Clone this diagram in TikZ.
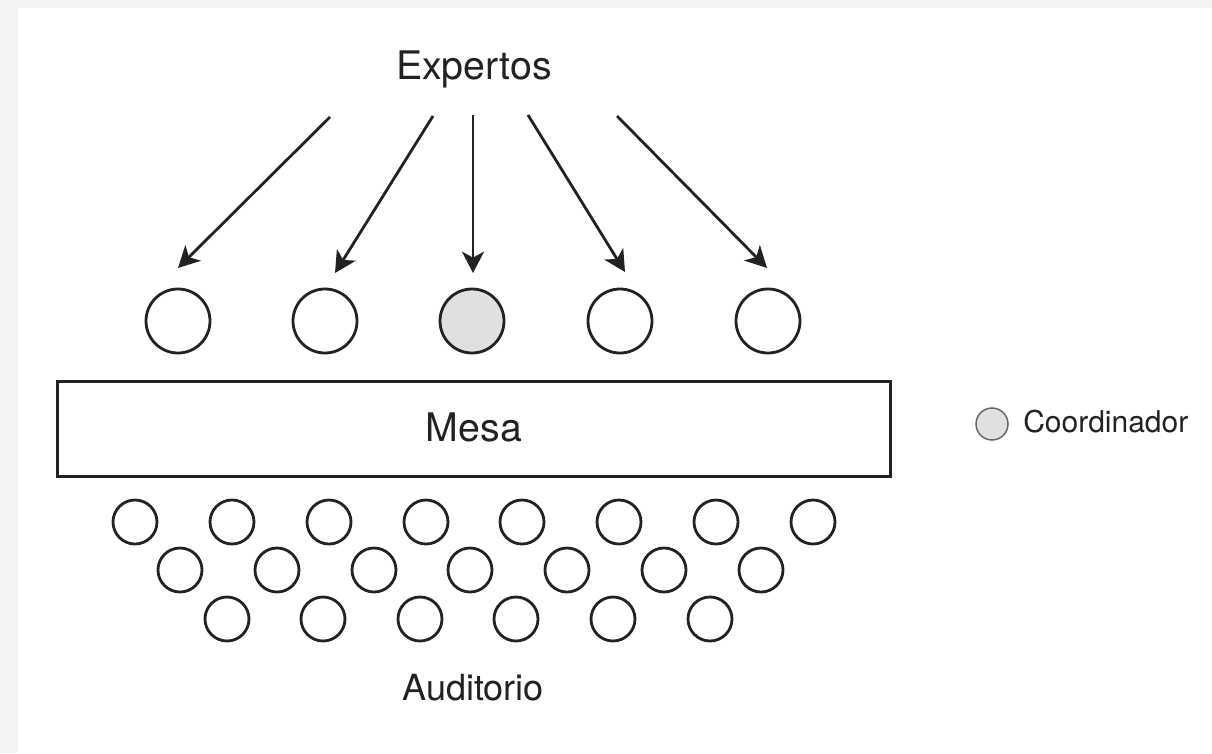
\documentclass[tikz,border=0pt]{standalone}
\usepackage{fontspec}
\setmainfont{TeX Gyre Heros}
\usetikzlibrary{arrows.meta}
\definecolor{ink}{HTML}{222222}
\definecolor{coordfill}{HTML}{E0E0E0}
\definecolor{bgstrip}{HTML}{F4F4F4}
\tikzset{
  expert/.style={circle, draw=ink, line width=2.1pt, minimum size=48pt, inner sep=0pt, fill=white},
  public/.style={circle, draw=ink, line width=2.1pt, minimum size=33pt, inner sep=0pt, fill=white},
  arr/.style={draw=ink, line width=2.1pt, -{Stealth[length=16pt, width=16.5pt, inset=4.5pt]}},
  lbl/.style={font=\fontsize{29.5pt}{32pt}\selectfont, text=ink, inner sep=0pt},
}
\begin{document}
\begin{tikzpicture}[x=0.75pt, y=-0.75pt]
\useasboundingbox (0,0) rectangle (1212,753);
\fill[bgstrip] (0,0) rectangle (1212,753);
\fill[white] (18,8) rectangle (1212,753);

% label
\node[lbl, anchor=base] (expertos) at (474,79) {Expertos};

% expert circles
\node[expert] (e1) at (178,321) {};
\node[expert] (e2) at (325,321) {};
\node[expert, fill=coordfill] (e3) at (472,321) {};
\node[expert] (e4) at (620,321) {};
\node[expert] (e5) at (768,321) {};

% arrows
\coordinate (s1) at (330,117); \coordinate (t1) at (178,268);
\coordinate (s2) at (433,116); \coordinate (t2) at (335,273);
\coordinate (s3) at (473,115); \coordinate (t3) at (473,273);
\coordinate (s4) at (528,115); \coordinate (t4) at (625,272);
\coordinate (s5) at (617,116); \coordinate (t5) at (767,268);
\draw[arr] (s1) -- (t1);
\draw[arr] (s2) -- (t2);
\draw[arr] (s3) -- (t3);
\draw[arr] (s4) -- (t4);
\draw[arr] (s5) -- (t5);

% table
\node[draw=ink, line width=2.1pt, minimum width=625pt, minimum height=71pt, inner sep=0pt] (mesa) at (474,429) {};
\node[lbl, anchor=base] (mesatxt) at (474,441) {Mesa};

% audience
\foreach \x [count=\i] in {135,232,329,426,522,619,716,813}
  \node[public] (r1-\i) at (\x,522) {};
\foreach \x [count=\i] in {180,277,374,470,567,664,761}
  \node[public] (r2-\i) at (\x,570) {};
\foreach \x [count=\i] in {227,323,420,516,613,710}
  \node[public] (r3-\i) at (\x,619) {};

\node[lbl, anchor=base, font=\fontsize{27pt}{30pt}\selectfont] (auditorio) at (473,700) {Auditorio};

% legend
\node[circle, draw=gray!80!black, line width=1.1pt, fill=coordfill, minimum size=24pt, inner sep=0pt] (lc) at (992,424) {};
\node[lbl, anchor=base west, font=\fontsize{22.5pt}{25pt}\selectfont] (legtxt) at (1023,432) {Coordinador};
\end{tikzpicture}
\end{document}
